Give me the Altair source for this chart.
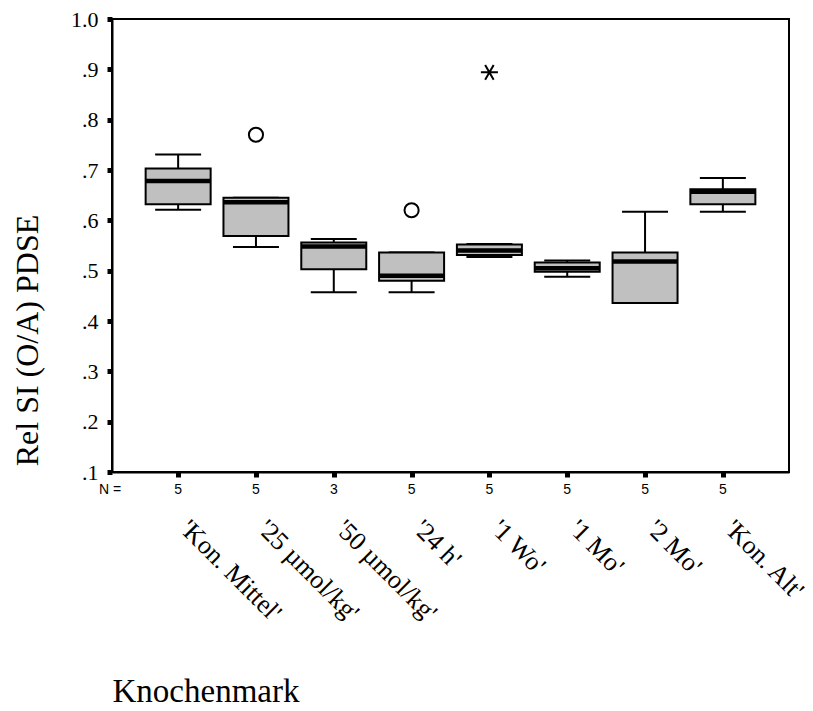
import altair as alt
import pandas as pd

# ---- data ----
categories = ["'Kon. Mittel'", "'25 µmol/kg'", "'50 µmol/kg'", "'24 h'",
              "'1 Wo'", "'1 Mo'", "'2 Mo'", "'Kon. Alt'"]
n_counts = [5, 5, 3, 5, 5, 5, 5, 5]
whisker_low = [0.621, 0.547, 0.457, 0.457, 0.527, 0.488, 0.436, 0.617]
q1_vals = [0.632, 0.569, 0.503, 0.480, 0.531, 0.498, 0.436, 0.632]
median_vals = [0.678, 0.636, 0.548, 0.490, 0.540, 0.505, 0.518, 0.657]
q3_vals = [0.703, 0.645, 0.556, 0.536, 0.552, 0.516, 0.536, 0.662]
whisker_high = [0.731, 0.645, 0.563, 0.536, 0.553, 0.520, 0.617, 0.684]

outlier_cats = ["'25 µmol/kg'", "'24 h'"]
outlier_vals = [0.770, 0.620]
extreme_cats = ["'1 Wo'"]
extreme_vals = [0.894]

y_ticks = [0.1, 0.2, 0.3, 0.4, 0.5, 0.6, 0.7, 0.8, 0.9, 1.0]
n_row_label = ["N ="]

df = pd.DataFrame({
    "cat": categories, "n": n_counts, "lo": whisker_low, "q1": q1_vals,
    "med": median_vals, "q3": q3_vals, "hi": whisker_high,
})
out_df = pd.DataFrame({"cat": outlier_cats, "val": outlier_vals})
ext_df = pd.DataFrame({"cat": extreme_cats, "val": extreme_vals})
nlab_df = pd.DataFrame({"label": n_row_label})

W, H = 677, 453
SERIF = "Liberation Serif"
SANS = "Liberation Sans"

xscale = alt.Scale(type="point", domain=categories, padding=0.85)
yscale = alt.Scale(domain=[0.1, 1.0], nice=False, zero=False)

x_axis = alt.Axis(
    title="Knochenmark", titleFont=SERIF, titleFontSize=33, titleFontWeight="normal",
    titleColor="black", titleX=0, titleY=229, titleAlign="left",
    titleBaseline="alphabetic", titleAngle=0,
    labelAngle=45, labelAlign="left", labelBaseline="top", labelPadding=38,
    labelOffset=15, labelFont=SERIF, labelFontSize=26, labelColor="black",
    labelOverlap=False, labelFlush=False, labelBound=False,
    domainColor="black", domainWidth=2, tickColor="black", tickSize=5, tickWidth=5,
    grid=False,
)
y_axis = alt.Axis(
    title="Rel SI (O/A) PDSE", titleFont=SERIF, titleFontSize=32, titleFontWeight="normal",
    titleColor="black", titleX=-85, titleY=321, titleAlign="center", titleBaseline="middle",
    values=y_ticks,
    labelExpr="datum.value >= 0.99 ? '1.0' : replace(format(datum.value, '.1f'), '0.', '.')",
    labelFont=SERIF, labelFontSize=22, labelColor="black", labelPadding=9,
    domainColor="black", domainWidth=2, tickColor="black", tickSize=5, tickWidth=5,
    grid=False,
)

X = alt.X("cat:N", scale=xscale, axis=x_axis, sort=categories)


def Y(field):
    return alt.Y(field, scale=yscale, axis=y_axis)


base = alt.Chart(df)

whisker = base.mark_rule(color="black", strokeWidth=2).encode(
    x=X, y=Y("lo:Q"), y2="hi:Q")
cap_lo = base.mark_tick(color="black", size=46, thickness=2, opacity=1).encode(
    x=X, y=Y("lo:Q"))
cap_hi = base.mark_tick(color="black", size=46, thickness=2, opacity=1).encode(
    x=X, y=Y("hi:Q"))
box = base.mark_bar(size=65, fill="#c0c0c0", stroke="black", strokeWidth=2).encode(
    x=X, y=Y("q1:Q"), y2="q3:Q")
med = base.mark_tick(color="black", size=65, thickness=4.5, opacity=1).encode(
    x=X, y=Y("med:Q"))

outl = alt.Chart(out_df).mark_point(
    shape="circle", size=200, filled=False, color="black", strokeWidth=2, opacity=1
).encode(x=X, y=Y("val:Q"))
extr = alt.Chart(ext_df).mark_point(
    shape="M-1,0L1,0M-0.5,-0.866L0.5,0.866M0.5,-0.866L-0.5,0.866",
    size=290, filled=False, color="black", strokeWidth=2, opacity=1
).encode(x=X, y=Y("val:Q"))

n_text = base.mark_text(font=SANS, fontSize=14, baseline="middle", color="black").encode(
    x=X, y=alt.value(H + 18), text="n:Q")
n_lab = alt.Chart(nlab_df).mark_text(font=SANS, fontSize=14, baseline="middle",
                                     align="center", color="black").encode(
    x=alt.value(-2), y=alt.value(H + 18), text="label:N")

chart = alt.layer(whisker, cap_lo, cap_hi, box, med, outl, extr, n_text, n_lab).properties(
    width=W, height=H,
    background="white",
    autosize=alt.AutoSizeParams(type="none"),
    padding={"left": 112, "top": 19, "right": 24, "bottom": 239},
).configure_view(stroke="black", strokeWidth=2)

chart.save("out.html", embed_options={"renderer": "svg", "actions": False})
